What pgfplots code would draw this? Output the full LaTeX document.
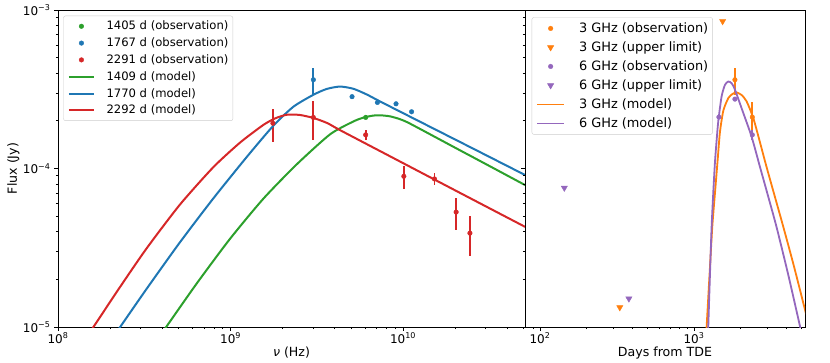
\documentclass[border=0pt]{standalone}
\usepackage{fontspec}
\setmainfont{DejaVu Sans}
\usepackage{pgfplots}
\pgfplotsset{compat=1.18}
\definecolor{tblue}{HTML}{1F77B4}
\definecolor{torange}{HTML}{FF7F0E}
\definecolor{tgreen}{HTML}{2CA02C}
\definecolor{tred}{HTML}{D62728}
\definecolor{tpurple}{HTML}{9467BD}

\pgfplotsset{
  every axis/.append style={
    scale only axis, height=317pt,
    tick align=outside,
    major tick length=4pt, minor tick length=2.2pt,
    tick style={black, line width=0.8pt},
    minor tick style={line width=0.6pt},
    axis line style={line width=0.8pt},
    tick label style={font=\fontsize{12}{14}\selectfont},
    xticklabel style={yshift=1.5pt},
    label style={font=\fontsize{12.6}{15}\selectfont},
    legend cell align=left,
  },
  mlegL/.style={legend image code/.code={
    \path[draw=none, fill=none] (0pt,-3pt) rectangle (25pt,3pt);
    \draw[##1] plot coordinates {(12.5pt,0pt)};}},
  llegL/.style={legend image code/.code={\draw[##1] (0pt,0pt) -- (25pt,0pt);}},
  mlegR/.style={legend image code/.code={
    \path[draw=none, fill=none] (0pt,-3pt) rectangle (27pt,3pt);
    \draw[##1] plot coordinates {(13.5pt,0pt)};}},
  llegR/.style={legend image code/.code={\draw[##1] (0pt,0pt) -- (27pt,0pt);}},
}

\begin{document}
\begin{tikzpicture}
\useasboundingbox (-58pt,-36pt) rectangle (772pt,327pt);

\begin{axis}[
  width=467pt,
  xmode=log, ymode=log,
  xmin=1e8, xmax=5.09e10,
  ymin=1e-5, ymax=1e-3,
  xtick pos=bottom, ytick pos=left,
  xtick={1e8,1e9,1e10},
  xticklabels={10\textsuperscript{8},10\textsuperscript{9},10\textsuperscript{10}},
  minor xtick={2e8,3e8,4e8,5e8,6e8,7e8,8e8,9e8,2e9,3e9,4e9,5e9,6e9,7e9,8e9,9e9,2e10,3e10,4e10,5e10},
  ytick={1e-5,1e-4,1e-3},
  minor ytick={2e-5,3e-5,4e-5,5e-5,6e-5,7e-5,8e-5,9e-5,2e-4,3e-4,4e-4,5e-4,6e-4,7e-4,8e-4,9e-4},
  yticklabels={10\textsuperscript{−5},10\textsuperscript{−4},10\textsuperscript{−3}},
  xlabel={\textit{ν} (Hz)},
  ylabel={Flux (Jy)},
  xlabel style={at={(axis description cs:0.5,-0.0915)}, anchor=base},
  ylabel style={at={(axis description cs:-0.0957,0.5)}, anchor=center},
  legend style={at={(axis description cs:0.0114,0.982)}, anchor=north west,
    draw=black!20, rounded corners=2pt, fill=white,
    font=\fontsize{11.6}{13.9}\selectfont,
    inner xsep=4.4pt, inner ysep=5.2pt, row sep=6.5pt, column sep=11.6pt,
    nodes={inner xsep=0pt, inner ysep=0pt}},
]
% observations
\addplot[tgreen, only marks, mark=*, mark size=2.3pt, mlegL,
  error bars/.cd, y dir=both, y explicit, error mark=none,
  error bar style={line width=1.8pt}] coordinates {
  (6.07e9,2.10e-4) +- (0,6e-6)
};
\addlegendentry{1405 d (observation)}
\addplot[tblue, only marks, mark=*, mark size=2.3pt, mlegL,
  error bars/.cd, y dir=both, y explicit, error mark=none,
  error bar style={line width=1.8pt}] coordinates {
  (3.02e9,3.63e-4) +- (0,7e-5)
  (5.06e9,2.84e-4) +- (0,8e-6)
  (7.10e9,2.61e-4) +- (0,5e-6)
  (9.10e9,2.56e-4) +- (0,5e-6)
  (1.12e10,2.28e-4) +- (0,5e-6)
};
\addlegendentry{1767 d (observation)}
\addplot[tred, only marks, mark=*, mark size=2.3pt, mlegL,
  error bars/.cd, y dir=both, y explicit, error mark=none,
  error bar style={line width=1.8pt}] coordinates {
  (1.76e9,1.93e-4) +- (0,4.6e-5)
  (3.02e9,2.10e-4) +- (0,5.8e-5)
  (6.07e9,1.63e-4) +- (0,1.2e-5)
  (1.01e10,8.93e-5) +- (0,1.5e-5)
  (1.52e10,8.59e-5) +- (0,7.3e-6)
  (2.03e10,5.31e-5) +- (0,1.2e-5)
  (2.44e10,3.91e-5) +- (0,1.1e-5)
};
\addlegendentry{2291 d (observation)}
% models
\addplot[tgreen, no markers, smooth, tension=0.4, line width=2pt, llegL] coordinates {
  (3.715e8,8.166e-6) (4.228e8,9.975e-6) (6.367e8,1.882e-5) (9.933e8,3.603e-5)
  (1.550e9,6.452e-5) (2.418e9,1.062e-4) (3.774e9,1.643e-4) (5.153e9,1.981e-4)
  (5.888e9,2.094e-4) (6.730e9,2.158e-4) (7.516e9,2.163e-4) (8.405e9,2.133e-4)
  (9.550e9,2.051e-4) (1.098e10,1.919e-4) (1.995e10,1.356e-4) (3.162e10,1.038e-4)
  (5.095e10,7.862e-5)
};
\addlegendentry{1409 d (model)}
\addplot[tblue, no markers, smooth, tension=0.4, line width=2pt, llegL] coordinates {
  (1.995e8,8.035e-6) (2.288e8,9.975e-6) (3.266e8,1.744e-5) (5.095e8,3.430e-5)
  (7.952e8,6.482e-5) (1.241e9,1.182e-4) (1.772e9,1.864e-4) (2.314e9,2.454e-4)
  (3.021e9,2.919e-4) (3.610e9,3.177e-4) (4.313e9,3.289e-4) (5.153e9,3.184e-4)
  (6.158e9,2.931e-4) (7.357e9,2.649e-4) (1.259e10,1.969e-4) (2.512e10,1.345e-4)
  (5.095e10,9.097e-5)
};
\addlegendentry{1770 d (model)}
\addplot[tred, no markers, smooth, tension=0.4, line width=2pt, llegL] coordinates {
  (1.413e8,8.110e-6) (1.602e8,9.975e-6) (2.288e8,1.788e-5) (3.266e8,3.139e-5)
  (5.095e8,5.929e-5) (7.952e8,1.020e-4) (1.135e9,1.457e-4) (1.550e9,1.884e-4)
  (1.820e9,2.075e-4) (2.116e9,2.183e-4) (2.512e9,2.178e-4) (3.021e9,2.084e-4)
  (3.631e9,1.936e-4) (4.313e9,1.746e-4) (7.943e9,1.233e-4) (1.585e10,8.318e-5)
  (2.818e10,5.998e-5) (5.095e10,4.285e-5)
};
\addlegendentry{2292 d (model)}
\end{axis}

\begin{axis}[
  at={(467pt,0pt)},
  width=280pt,
  xmode=log, ymode=log,
  xmin=80, xmax=5260,
  ymin=1e-5, ymax=1e-3,
  xtick pos=bottom, ytick pos=left,
  xtick={1e2,1e3},
  xticklabels={10\textsuperscript{2},10\textsuperscript{3}},
  minor xtick={90,200,300,400,500,600,700,800,900,2000,3000,4000,5000},
  ytick={1e-5,1e-4,1e-3},
  minor ytick={2e-5,3e-5,4e-5,5e-5,6e-5,7e-5,8e-5,9e-5,2e-4,3e-4,4e-4,5e-4,6e-4,7e-4,8e-4,9e-4},
  yticklabels={},
  xlabel={Days from TDE},
  xlabel style={at={(axis description cs:0.5,-0.0915)}, anchor=base},
  legend style={at={(axis description cs:0.024,0.977)}, anchor=north west,
    draw=black!20, rounded corners=2pt, fill=white,
    font=\fontsize{12.9}{15.5}\selectfont,
    inner xsep=4.3pt, inner ysep=5.3pt, row sep=7.7pt, column sep=14pt,
    nodes={inner xsep=0pt, inner ysep=0pt}},
]
\addplot[torange, only marks, mark=*, mark size=2.3pt, mlegR,
  error bars/.cd, y dir=both, y explicit, error mark=none,
  error bar style={line width=1.8pt}] coordinates {
  (1845,3.63e-4) +- (0,7e-5)
  (2393,2.11e-4) +- (0,5e-5)
};
\addlegendentry{3 GHz (observation)}
\addplot[torange, only marks, mark=triangle*, mark size=3.6pt,
  mark options={rotate=180}, mlegR] coordinates {
  (1535,8.49e-4) (330,1.33e-5)
};
\addlegendentry{3 GHz (upper limit)}
\addplot[tpurple, only marks, mark=*, mark size=2.3pt, mlegR,
  error bars/.cd, y dir=both, y explicit, error mark=none,
  error bar style={line width=1.8pt}] coordinates {
  (1452,2.11e-4) +- (0,6e-6)
  (1845,2.74e-4) +- (0,8e-6)
  (2393,1.63e-4) +- (0,1.2e-5)
};
\addlegendentry{6 GHz (observation)}
\addplot[tpurple, only marks, mark=triangle*, mark size=3.6pt,
  mark options={rotate=180}, mlegR] coordinates {
  (144,7.55e-5) (378,1.51e-5)
};
\addlegendentry{6 GHz (upper limit)}
\addplot[torange, no markers, smooth, tension=0.4, line width=1.8pt, llegR] coordinates {
  (1191,7.943e-6) (1209,1.012e-5) (1259,2.042e-5) (1315,4.285e-5) (1369,6.998e-5)
  (1425,1.132e-4) (1475,1.698e-4) (1551,2.317e-4) (1671,2.780e-4) (1778,2.951e-4)
  (1893,3.020e-4) (2042,2.904e-4) (2198,2.649e-4) (2428,2.080e-4) (2692,1.445e-4)
  (2979,1.0e-4) (3803,4.285e-5) (4467,2.399e-5) (5340,1.212e-5) (5623,1.0e-5)
};
\addlegendentry{3 GHz (model)}
\addplot[tpurple, no markers, smooth, tension=0.4, line width=1.8pt, llegR] coordinates {
  (1227,7.943e-6) (1239,1.012e-5) (1271,2.188e-5) (1302,4.285e-5) (1335,7.079e-5)
  (1369,1.096e-4) (1404,1.514e-4) (1439,1.995e-4) (1512,2.851e-4) (1590,3.373e-4)
  (1671,3.540e-4) (1756,3.451e-4) (1846,3.141e-4) (2091,2.239e-4) (2369,1.585e-4)
  (2683,1.023e-4) (3041,6.607e-5) (3443,4.246e-5) (4093,2.138e-5) (4879,1.012e-5)
  (5164,7.943e-6)
};
\addlegendentry{6 GHz (model)}
\end{axis}
\end{tikzpicture}
\end{document}
